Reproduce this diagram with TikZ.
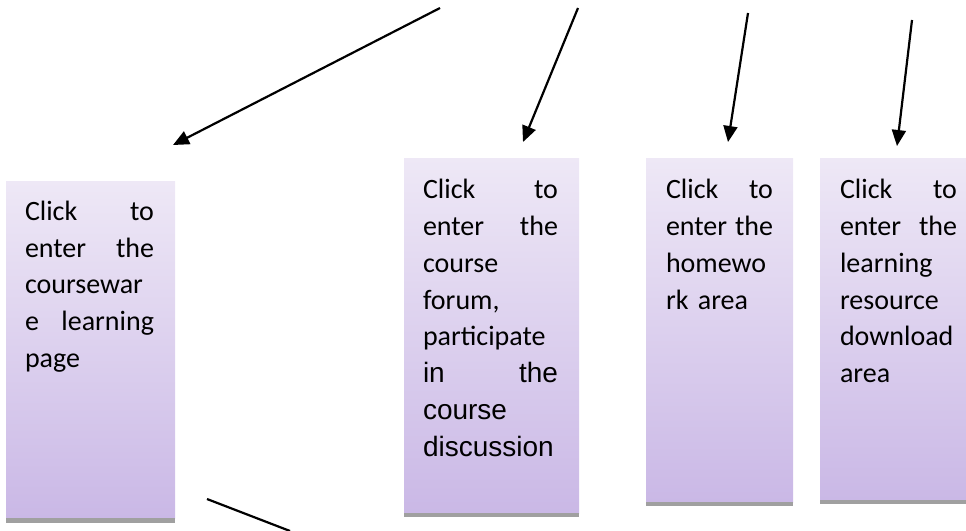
\documentclass[tikz,border=0pt]{standalone}
\usepackage{fontspec}
\setmainfont{Carlito}
\newfontfamily\arialfont{Liberation Sans}
\usetikzlibrary{arrows.meta,calc}
\definecolor{boxtop}{RGB}{238,232,246}
\definecolor{boxbot}{RGB}{202,184,230}
\definecolor{barcol}{RGB}{160,160,160}
\tikzset{
  panel/.style={anchor=north west, inner sep=0pt, outer sep=0pt, draw=none, top color=boxtop, bottom color=boxbot},
  txt/.style={anchor=north west, inner sep=0pt, outer sep=0pt, align=left, font=\fontsize{28}{36.8}\selectfont},
  bar/.style={fill=barcol},
  conn/.style={line width=2.2pt, -{Triangle[length=16pt,width=14pt]}},
  plain/.style={line width=2.2pt}
}
\begin{document}
\begin{tikzpicture}[x=1pt,y=-1pt]
\useasboundingbox (0,0) rectangle (966,530);
% boxes
\node[panel, minimum width=169pt, minimum height=337pt] (b1) at (6,181) {};
\node[panel, minimum width=175pt, minimum height=355pt] (b2) at (404,158) {};
\node[panel, minimum width=147pt, minimum height=344pt] (b3) at (646,158) {};
\node[panel, minimum width=146pt, minimum height=342pt] (b4) at (820,158) {};
\fill[bar] (b1.south west) rectangle ($(b1.south east)+(0,5)$);
\fill[bar] (b2.south west) rectangle ($(b2.south east)+(0,4)$);
\fill[bar] (b3.south west) rectangle ($(b3.south east)+(0,4)$);
\fill[bar] (b4.south west) rectangle ($(b4.south east)+(0,4)$);
% texts
\node[txt, text width=129pt] (t1) at ($(b1.north west)+(19,13.5)$)
  {\strut Click\hfill to\\enter\hfill the\\coursewar\\e\hfill learning\\page};
\node[txt, text width=135pt] (t2) at ($(b2.north west)+(19,15)$)
  {\strut Click\hfill to\\enter\hfill the\\course\\forum,\\participate\\{\arialfont in\hfill the}\\{\arialfont course}\\{\arialfont discussion}};
\node[txt, text width=107pt] (t3) at ($(b3.north west)+(20,15)$)
  {\strut Click\hfill to\\enter\hfill the\\homewo\\rk area};
\node[txt, text width=117pt] (t4) at ($(b4.north west)+(20,15)$)
  {\strut Click\hfill to\\enter\hfill the\\learning\\resource\\download\\area};
% arrows
\coordinate (s1) at (440,8);   \coordinate (e1) at (173,145);
\coordinate (s2) at (578,8);   \coordinate (e2) at (523,142);
\coordinate (s3) at (748,13);  \coordinate (e3) at (728,142);
\coordinate (s4) at (912,20);  \coordinate (e4) at (897,146);
\coordinate (s5) at (207,499); \coordinate (e5) at (290,531);
\draw[conn] (s1) -- (e1);
\draw[conn] (s2) -- (e2);
\draw[conn] (s3) -- (e3);
\draw[conn] (s4) -- (e4);
\draw[plain] (s5) -- (e5);
\end{tikzpicture}
\end{document}
